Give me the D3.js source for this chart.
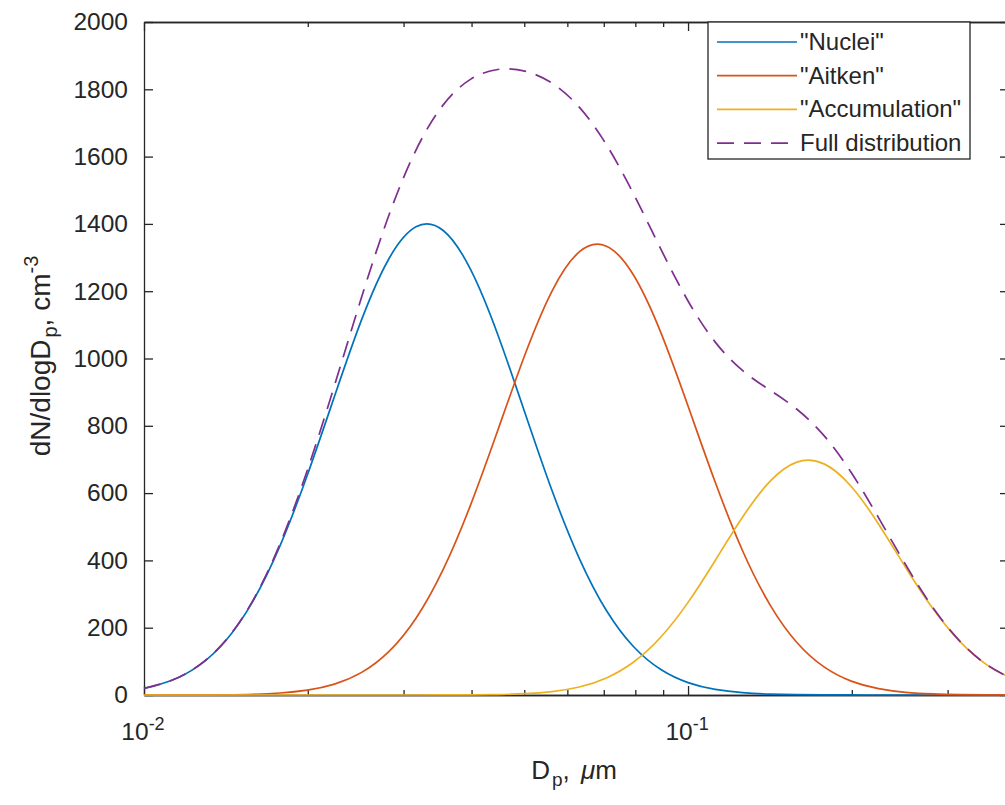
<!DOCTYPE html>
<html>
<head>
<meta charset="utf-8">
<script src="https://cdn.jsdelivr.net/npm/d3@7"></script>
<style>
  html, body { margin: 0; padding: 0; background: #fff; }
  svg { display: block; }
  text { font-family: "Liberation Sans", Arial, sans-serif; fill: #262626; }
</style>
</head>
<body>
<svg id="chart" width="1005" height="805"></svg>
<script>
// Particle diameter (µm), log-spaced
const diameters = [0.01000, 0.01122, 0.01259, 0.01413, 0.01585, 0.01778, 0.01995, 0.02239, 0.02512, 0.02818,
  0.03162, 0.03548, 0.03981, 0.04467, 0.05012, 0.05623, 0.06310, 0.07079, 0.07943, 0.08913,
  0.1000, 0.1122, 0.1259, 0.1413, 0.1585, 0.1778, 0.1995, 0.2239, 0.2512, 0.2818, 0.3162, 0.3548, 0.3981];

// dN/dlogDp (cm^-3) for each mode
const nuclei = [19.6, 42.9, 86.5, 161.4, 278.2, 443.1, 652.3, 887.2, 1115.4, 1295.8,
  1391.2, 1380.3, 1265.5, 1072.3, 839.6, 607.6, 406.3, 251.0, 143.3, 75.7,
  36.9, 16.6, 6.9, 2.7, 0.9, 0.3, 0.1, 0, 0, 0, 0, 0, 0];
const aitken = [0, 0.1, 0.25, 0.8, 2.2, 5.9, 14.4, 32.4, 67.2, 128.9,
  228.3, 373.3, 563.5, 785.2, 1010.4, 1200.5, 1316.9, 1333.8, 1247.4, 1077.0,
  858.7, 632.1, 429.5, 269.5, 156.1, 83.5, 41.2, 18.8, 7.9, 3.1, 1.1, 0.4, 0.1];
const accumulation = [0, 0, 0, 0, 0, 0, 0, 0, 0, 0,
  0, 0.1, 0.5, 1.4, 4.0, 10.2, 23.8, 50.7, 98.0, 172.3,
  275.3, 399.9, 528.1, 634.1, 692.1, 686.9, 619.8, 508.4, 379.1, 257.0, 158.4, 88.8, 45.2];
const fullDistribution = [19.6, 43.0, 86.8, 162.2, 280.4, 449.0, 666.7, 919.6, 1182.6, 1424.7,
  1619.5, 1753.7, 1829.5, 1858.9, 1854.0, 1818.3, 1747.0, 1635.5, 1488.7, 1325.0,
  1170.9, 1048.6, 964.5, 906.3, 849.1, 770.7, 661.1, 527.2, 387.0, 260.1, 159.5, 89.2, 45.3];

const seriesNames = ['"Nuclei"', '"Aitken"', '"Accumulation"', 'Full distribution'];
const seriesColors = ["#0072BD", "#D95319", "#EDB120", "#7E2F8E"];

const yTicks = [0, 200, 400, 600, 800, 1000, 1200, 1400, 1600, 1800, 2000];
const xMajorTicks = [0.01, 0.1];
const xMajorLabels = [["10", "-2"], ["10", "-1"]];
const xMinorTicks = [0.02, 0.03, 0.04, 0.05, 0.06, 0.07, 0.08, 0.09, 0.2, 0.3];

const svg = d3.select("#chart");
const plotLeft = 144, plotTop = 22, plotBottom = 695, plotRight = 1009;

const x = d3.scaleLog().domain([0.01, 0.389]).range([plotLeft, plotRight]);
const y = d3.scaleLinear().domain([0, 2000]).range([plotBottom, plotTop]);

const axisColor = "#262626";
const fontSize = 24.5;

function styleAxis(g) {
  g.select(".domain").attr("stroke", axisColor).attr("stroke-width", 1.3);
  g.selectAll(".tick line").attr("stroke", axisColor).attr("stroke-width", 1.3);
  g.selectAll(".tick text").attr("fill", axisColor).style("font-size", fontSize + "px")
    .style("font-family", '"Liberation Sans", Arial, sans-serif');
}

// Left axis with labels
svg.append("g").attr("transform", `translate(${plotLeft},0)`)
  .call(d3.axisLeft(y).tickValues(yTicks).tickSize(-9).tickSizeOuter(0).tickPadding(16).tickFormat(d3.format("d")))
  .call(styleAxis);

// Right axis (mirror ticks)
svg.append("g").attr("transform", `translate(${plotRight},0)`)
  .call(d3.axisRight(y).tickValues(yTicks).tickSize(-9).tickSizeOuter(0).tickFormat(""))
  .call(styleAxis);

// Bottom axis: major and minor ticks
svg.append("g").attr("transform", `translate(0,${plotBottom})`)
  .call(d3.axisBottom(x).tickValues(xMajorTicks).tickSize(-9).tickSizeOuter(0).tickFormat(""))
  .call(styleAxis);
svg.append("g").attr("transform", `translate(0,${plotBottom})`)
  .call(d3.axisBottom(x).tickValues(xMinorTicks).tickSize(-5).tickSizeOuter(0).tickFormat(""))
  .call(styleAxis);

// Top axis (mirror ticks)
svg.append("g").attr("transform", `translate(0,${plotTop})`)
  .call(d3.axisTop(x).tickValues(xMajorTicks).tickSize(-9).tickSizeOuter(0).tickFormat(""))
  .call(styleAxis);
svg.append("g").attr("transform", `translate(0,${plotTop})`)
  .call(d3.axisTop(x).tickValues(xMinorTicks).tickSize(-5).tickSizeOuter(0).tickFormat(""))
  .call(styleAxis);

// Power-of-ten tick labels
xMajorTicks.forEach((v, i) => {
  const t = svg.append("text")
    .attr("x", x(v) - 1).attr("y", 740)
    .attr("text-anchor", "middle")
    .style("font-size", fontSize + "px");
  t.append("tspan").text(xMajorLabels[i][0]);
  t.append("tspan").attr("dy", -10).style("font-size", "18px").text(xMajorLabels[i][1]);
});

// Axis titles
const xt = svg.append("text").attr("x", 574).attr("y", 779)
  .attr("text-anchor", "middle").style("font-size", "26px");
xt.append("tspan").text("D");
xt.append("tspan").attr("dy", 7).attr("dx", 2).style("font-size", "19px").text("p");
xt.append("tspan").attr("dy", -7).text(", ");
xt.append("tspan").attr("dx", 4).style("font-style", "italic").text("\u03BC");
xt.append("tspan").text("m");

const yt = svg.append("text")
  .attr("transform", "translate(50,356) rotate(-90)")
  .attr("text-anchor", "middle").style("font-size", "28px");
yt.append("tspan").text("dN/dlogD");
yt.append("tspan").attr("dy", 7).attr("dx", 2).style("font-size", "20px").text("p");
yt.append("tspan").attr("dy", -7).text(", cm");
yt.append("tspan").attr("dy", -12).style("font-size", "20px").text("-3");

// Curves
svg.append("defs").append("clipPath").attr("id", "plotClip")
  .append("rect").attr("x", plotLeft).attr("y", plotTop - 2)
  .attr("width", plotRight - plotLeft).attr("height", plotBottom - plotTop + 4);

const line = d3.line()
  .x((d, i) => x(diameters[i]))
  .y(d => y(d))
  .curve(d3.curveNatural);

const series = [nuclei, aitken, accumulation, fullDistribution];
const curves = svg.append("g").attr("clip-path", "url(#plotClip)");
series.forEach((vals, i) => {
  curves.append("path")
    .datum(vals)
    .attr("d", line)
    .attr("fill", "none")
    .attr("stroke", seriesColors[i])
    .attr("stroke-width", 1.7)
    .attr("stroke-dasharray", i === 3 ? "17,10" : null);
});

// Legend
const lg = svg.append("g");
lg.append("rect").attr("x", 708).attr("y", plotTop).attr("width", 262).attr("height", 137)
  .attr("fill", "#fff").attr("stroke", axisColor).attr("stroke-width", 1.3);
seriesNames.forEach((name, i) => {
  const cy = 42 + i * 33.7;
  lg.append("line").attr("x1", 717).attr("x2", 797).attr("y1", cy).attr("y2", cy)
    .attr("stroke", seriesColors[i]).attr("stroke-width", 1.7)
    .attr("stroke-dasharray", i === 3 ? "17,10" : null);
  lg.append("text").attr("x", 800).attr("y", cy + 8).style("font-size", "24px").text(name);
});
</script>
</body>
</html>
